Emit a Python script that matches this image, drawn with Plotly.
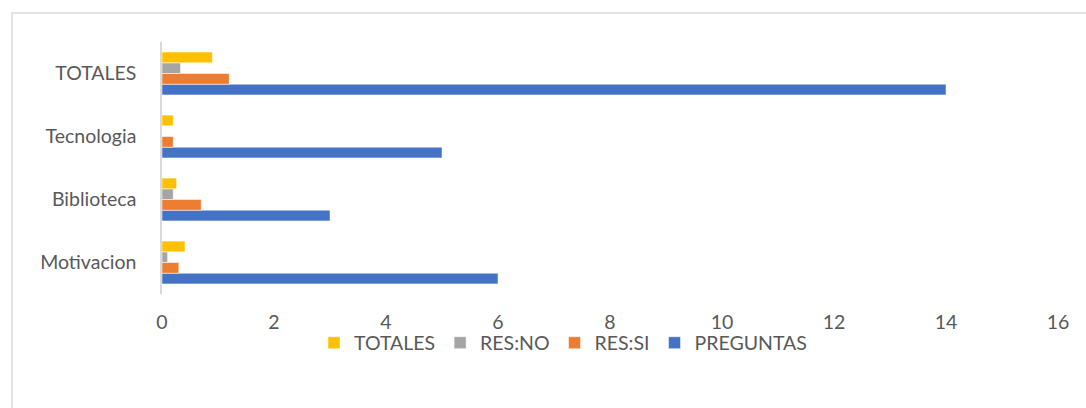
import plotly.graph_objects as go

categories = ["Motivacion", "Biblioteca", "Tecnologia", "TOTALES"]
preguntas = [6, 3, 5, 14]
res_si = [0.3, 0.7, 0.2, 1.2]
res_no = [0.1, 0.2, 0.0, 0.33]
totales = [0.41, 0.26, 0.2, 0.9]

series = [
    ("PREGUNTAS", preguntas, "#4472C4"),
    ("RES:SI", res_si, "#ED7D31"),
    ("RES:NO", res_no, "#A5A5A5"),
    ("TOTALES", totales, "#FFC000"),
]

FONT = "Lato, Calibri, Carlito, sans-serif"
TXT = "#595959"
FS = 19.5

fig = go.Figure()
for name, vals, color in series:
    fig.add_trace(go.Bar(
        y=categories, x=vals, name=name, orientation="h",
        marker=dict(color=color, line=dict(color="white", width=0.5)),
    ))

W, H = 1086, 408
L, R, T, B = 162, 28, 42, 114
pw, ph = W - L - R, H - T - B

def px_x(p):
    return (p - L) / pw

def px_y(p):
    return (H - B - p) / ph

fig.update_layout(
    width=W, height=H,
    margin=dict(l=L, r=R, t=T, b=B),
    barmode="group",
    bargap=0.32,
    bargroupgap=0,
    plot_bgcolor="white",
    paper_bgcolor="white",
    font=dict(family=FONT, size=FS, color=TXT),
    xaxis=dict(
        range=[0, 16], dtick=2, showgrid=False, zeroline=False,
        showline=False, ticks="", ticklabelstandoff=14,
        tickfont=dict(family=FONT, size=FS, color=TXT),
    ),
    yaxis=dict(
        showgrid=False, zeroline=False, showline=True,
        linecolor="#D9D9D9", linewidth=1.5, ticks="",
        ticklabelstandoff=20,
        tickfont=dict(family=FONT, size=FS, color=TXT),
    ),
    legend=dict(
        orientation="h", traceorder="reversed",
        xref="paper", yref="paper",
        x=px_x(563), xanchor="center",
        y=px_y(343), yanchor="middle",
        bgcolor="rgba(0,0,0,0)",
        font=dict(family=FONT, size=FS, color=TXT),
        itemwidth=30, tracegroupgap=0,
    ),
    showlegend=True,
    shapes=[dict(
        type="rect", xref="paper", yref="paper",
        x0=px_x(12), y0=px_y(460), x1=px_x(1120), y1=px_y(13),
        line=dict(color="#D9D9D9", width=1.5), fillcolor="rgba(0,0,0,0)",
        layer="below",
    )],
)

fig.write_html(
    "out.html",
    config={"displayModeBar": False},
    post_script="document.body.style.margin='0';document.body.style.padding='0';",
)
